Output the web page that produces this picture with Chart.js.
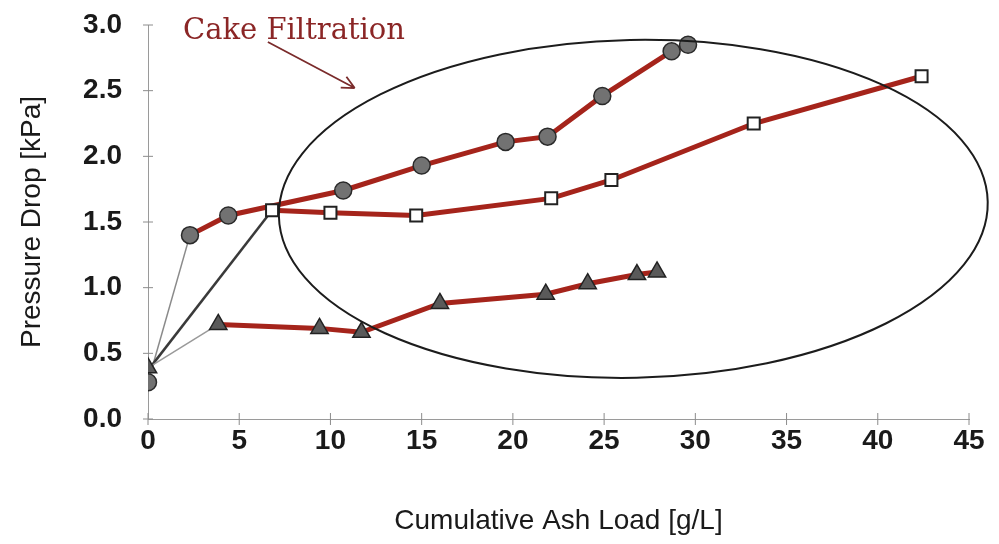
<!DOCTYPE html>
<html lang="en">
<head>
  <meta charset="UTF-8">
  <title>Cake Filtration - Pressure Drop</title>
  <script src="https://cdn.jsdelivr.net/npm/chart.js"></script>
  <style>
    html, body { margin: 0; padding: 0; background: #fff; }
    #wrap { width: 999px; height: 544px; }
  </style>
</head>
<body>
  <div id="wrap"><canvas id="ashChart"></canvas></div>

<script>
  // values
  const circleX = [0, 2.3, 4.4, 10.7, 15.0, 19.6, 21.9, 24.9, 28.7, 29.6];
  const circleY = [0.28, 1.40, 1.55, 1.74, 1.93, 2.11, 2.15, 2.46, 2.80, 2.85];
  const squareX = [0, 6.8, 10.0, 14.7, 22.1, 25.4, 33.2, 42.4];
  const squareY = [0.37, 1.59, 1.57, 1.55, 1.68, 1.82, 2.25, 2.61];
  const triangleX = [0, 3.85, 9.4, 11.7, 16.0, 21.8, 24.1, 26.8, 27.9];
  const triangleY = [0.39, 0.72, 0.69, 0.66, 0.88, 0.95, 1.03, 1.10, 1.12];
  const xTicks = [0, 5, 10, 15, 20, 25, 30, 35, 40, 45];
  const yTicks = [0, 0.5, 1.0, 1.5, 2.0, 2.5, 3.0];

  const RED = '#a5241b';
  const toPoints = (xs, ys) => xs.map((x, i) => ({ x: x, y: ys[i] }));

  // first segment of every run is a thin grey connector from the origin
  const segStyle = (firstColor, firstWidth) => ({
    borderColor: ctx => ctx.p0DataIndex === 0 ? firstColor : RED,
    borderWidth: ctx => ctx.p0DataIndex === 0 ? firstWidth : 5
  });

  // ellipse, arrow, label, and crossing tick marks
  const decorations = {
    id: 'decorations',
    afterDatasetsDraw(chart) {
      const { ctx, scales: { x, y } } = chart;
      ctx.save();

      // ellipse around the cake filtration region
      const cx = x.getPixelForValue(26.6), cy = y.getPixelForValue(1.60);
      const rx = x.getPixelForValue(19.43) - x.getPixelForValue(0);
      const ry = y.getPixelForValue(0) - y.getPixelForValue(1.286);
      ctx.beginPath();
      ctx.ellipse(cx, cy, rx, ry, -0.02, 0, Math.PI * 2);
      ctx.strokeStyle = '#1c1c1c';
      ctx.lineWidth = 2;
      ctx.stroke();

      // arrow
      const ax0 = x.getPixelForValue(6.57), ay0 = y.getPixelForValue(2.87);
      const ax1 = x.getPixelForValue(11.33), ay1 = y.getPixelForValue(2.52);
      const ang = Math.atan2(ay1 - ay0, ax1 - ax0);
      ctx.strokeStyle = '#7a2b2b';
      ctx.lineWidth = 1.8;
      ctx.beginPath();
      ctx.moveTo(ax0, ay0);
      ctx.lineTo(ax1, ay1);
      ctx.moveTo(ax1, ay1);
      ctx.lineTo(ax1 - 14 * Math.cos(ang - 0.45), ay1 - 14 * Math.sin(ang - 0.45));
      ctx.moveTo(ax1, ay1);
      ctx.lineTo(ax1 - 14 * Math.cos(ang + 0.45), ay1 - 14 * Math.sin(ang + 0.45));
      ctx.stroke();

      // label
      ctx.fillStyle = '#8b2626';
      ctx.font = '29px "DejaVu Serif", "Liberation Serif", serif';
      ctx.textAlign = 'left';
      ctx.textBaseline = 'alphabetic';
      ctx.fillText('Cake Filtration', x.getPixelForValue(1.92), y.getPixelForValue(2.894));

      // small crossing tick marks on both axes
      ctx.strokeStyle = '#8c8c8c';
      ctx.lineWidth = 1;
      ctx.beginPath();
      xTicks.forEach(v => {
        const px = x.getPixelForValue(v);
        ctx.moveTo(px, x.top - 6);
        ctx.lineTo(px, x.top + 6);
      });
      yTicks.forEach(v => {
        const py = y.getPixelForValue(v);
        ctx.moveTo(y.right - 5, py);
        ctx.lineTo(y.right + 5, py);
      });
      ctx.stroke();
      ctx.restore();
    }
  };

  const ctx = document.getElementById('ashChart').getContext('2d');
  new Chart(ctx, {
    type: 'scatter',
    data: {
      datasets: [
        {
          label: 'Triangles',
          data: toPoints(triangleX, triangleY),
          showLine: true,
          order: 1,
          pointStyle: 'triangle',
          pointRadius: 10,
          pointBackgroundColor: '#5a5a5a',
          pointBorderColor: '#222',
          pointBorderWidth: 1.5,
          segment: segStyle('#9a9a9a', 1.5)
        },
        {
          label: 'Squares',
          data: toPoints(squareX, squareY),
          showLine: true,
          order: 2,
          pointStyle: 'rect',
          pointRadius: ctx => ctx.dataIndex === 0 ? 0 : 8.5,
          pointBackgroundColor: '#ffffff',
          pointBorderColor: '#222',
          pointBorderWidth: 2,
          segment: segStyle('#3a3a3a', 2.5)
        },
        {
          label: 'Circles',
          data: toPoints(circleX, circleY),
          showLine: true,
          order: 3,
          pointStyle: 'circle',
          pointRadius: 8.5,
          pointBackgroundColor: '#727272',
          pointBorderColor: '#2a2a2a',
          pointBorderWidth: 1.5,
          segment: segStyle('#8a8a8a', 1.5)
        }
      ]
    },
    options: {
      responsive: true,
      maintainAspectRatio: false,
      animation: false,
      layout: { padding: { top: 25, right: 30, left: 0, bottom: 0 } },
      plugins: {
        legend: { display: false },
        tooltip: { enabled: false }
      },
      scales: {
        x: {
          type: 'linear',
          min: 0,
          max: 45,
          afterFit: s => { s.height = 125; s.paddingLeft = 0; s.paddingRight = 0; },
          afterBuildTicks: s => { s.ticks = xTicks.map(v => ({ value: v })); },
          grid: { drawOnChartArea: false, drawTicks: false },
          border: { color: '#9a9a9a', width: 1 },
          ticks: {
            padding: 5,
            color: '#1a1a1a',
            font: { family: 'Arial, "Liberation Sans"', size: 28, weight: 'bold' }
          },
          title: {
            display: true,
            text: 'Cumulative Ash Load [g/L]',
            color: '#1a1a1a',
            padding: { top: 0, bottom: 6 },
            font: { family: 'Arial, "Liberation Sans"', size: 28 }
          }
        },
        y: {
          min: 0,
          max: 3,
          afterFit: s => { s.width = 148; s.paddingTop = 0; s.paddingBottom = 0; },
          afterBuildTicks: s => { s.ticks = yTicks.map(v => ({ value: v })); },
          grid: { drawOnChartArea: false, drawTicks: false },
          border: { color: '#9a9a9a', width: 1 },
          ticks: {
            padding: 26,
            color: '#1a1a1a',
            font: { family: 'Arial, "Liberation Sans"', size: 28, weight: 'bold' },
            callback: v => v.toFixed(1)
          },
          title: {
            display: true,
            text: 'Pressure Drop [kPa]',
            color: '#1a1a1a',
            padding: { top: 15, bottom: 0 },
            font: { family: 'Arial, "Liberation Sans"', size: 28 }
          }
        }
      }
    },
    plugins: [decorations]
  });
</script>

</body>
</html>
